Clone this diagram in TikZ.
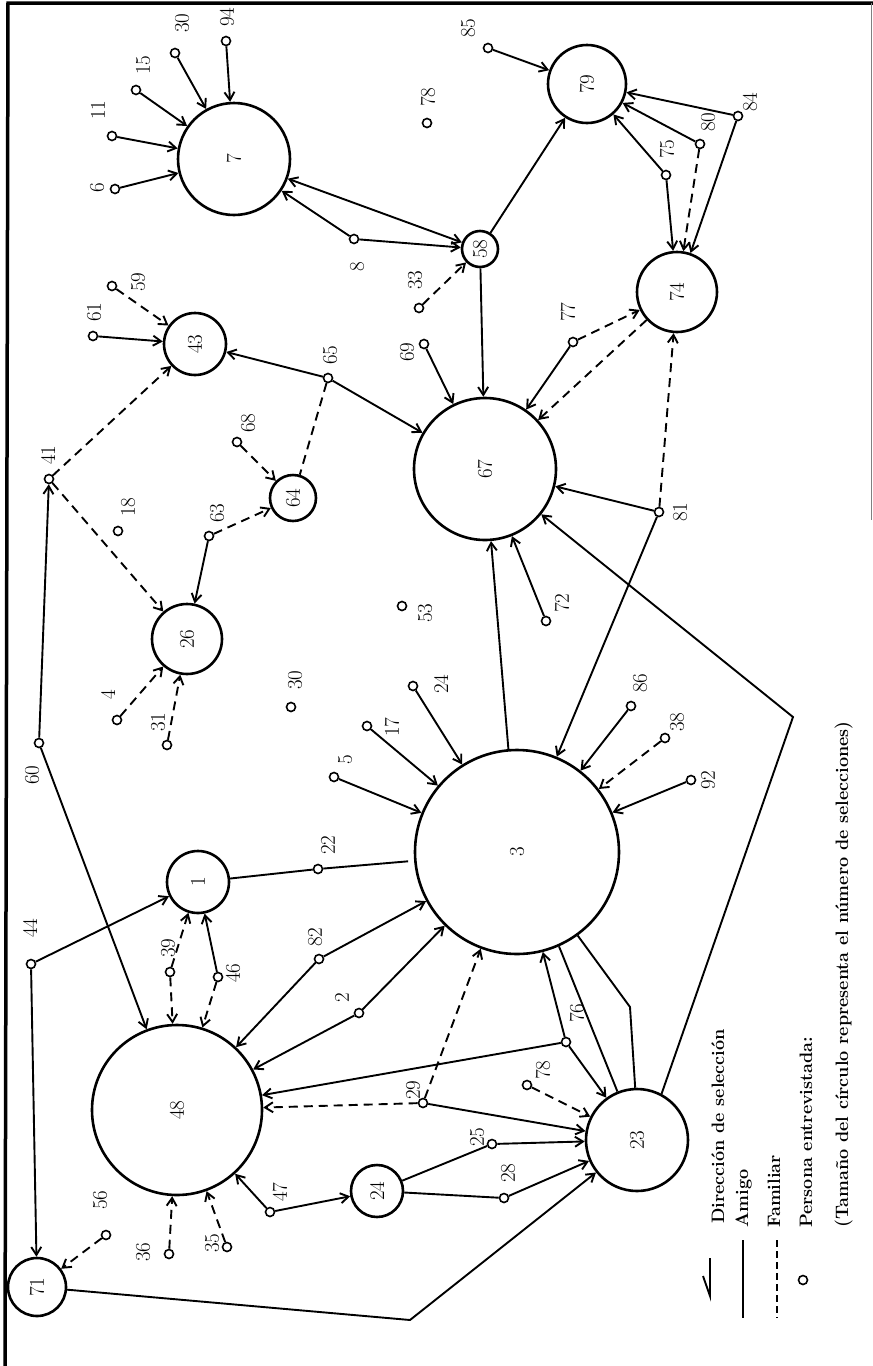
\documentclass[tikz,border=0pt]{standalone}
\usepackage{tikz}
\usetikzlibrary{arrows.meta}

\tikzset{
  grupo/.style={draw, circle, line width=2.6pt, inner sep=0pt, font=\fontsize{21}{22}\selectfont},
  pers/.style={draw, circle, line width=1.6pt, minimum size=9pt, inner sep=0pt},
  num/.style={rotate=90, inner sep=0pt, font=\fontsize{21}{22}\selectfont},
  amigo/.style={line width=1.9pt},
  familiar/.style={line width=1.9pt, dash pattern=on 9pt off 6pt},
  leg/.style={rotate=90, inner sep=0pt, anchor=base west, font=\fontsize{18}{20}\selectfont\bfseries},
}

\begin{document}
\begin{tikzpicture}[x=1pt, y=-1pt, >={Straight Barb[length=8pt,width=10pt]}]
    \useasboundingbox (0,0) rectangle (873,1366);
    % frame
    \draw[line width=3.5pt] (873,3) -- (8,3) -- (5,1366);
    \draw[line width=0.8pt, black!50] (871,3) -- (871,520);

    % groups (size = number of selections)
    \path
    (234,159) node[grupo, minimum size=112pt] (c7) {\rotatebox{90}{7}}
    (195,344) node[grupo, minimum size=62pt] (c43) {\rotatebox{90}{43}}
    (587,84) node[grupo, minimum size=78pt] (c79) {\rotatebox{90}{79}}
    (480,249) node[grupo, minimum size=36pt] (c58) {\rotatebox{90}{58}}
    (677,292) node[grupo, minimum size=80pt] (c74) {\rotatebox{90}{74}}
    (485,469) node[grupo, minimum size=142pt] (c67) {\rotatebox{90}{67}}
    (293,498) node[grupo, minimum size=46pt] (c64) {\rotatebox{90}{64}}
    (187,639) node[grupo, minimum size=70pt] (c26) {\rotatebox{90}{26}}
    (198,882) node[grupo, minimum size=62pt] (c1) {\rotatebox{90}{1}}
    (517,852) node[grupo, minimum size=204pt] (c3) {\rotatebox{90}{3}}
    (177,1110) node[grupo, minimum size=170pt] (c48) {\rotatebox{90}{48}}
    (377,1191) node[grupo, minimum size=52pt] (c24) {\rotatebox{90}{24}}
    (637,1140) node[grupo, minimum size=102pt] (c23) {\rotatebox{90}{23}}
    (37,1287) node[grupo, minimum size=58pt] (c71) {\rotatebox{90}{71}}
    ;

    % persons interviewed
    \path
    (115,189) node[pers] (p6) {}
    (112,136) node[pers] (p11) {}
    (136,90) node[pers] (p15) {}
    (175,53) node[pers] (p30a) {}
    (226,41) node[pers] (p94) {}
    (427,123) node[pers] (p78a) {}
    (354,239) node[pers] (p8) {}
    (93,336) node[pers] (p61) {}
    (112,286) node[pers] (p59) {}
    (419,308) node[pers] (p33) {}
    (424,344) node[pers] (p69) {}
    (328,378) node[pers] (p65) {}
    (237,442) node[pers] (p68) {}
    (488,48) node[pers] (p85) {}
    (700,144) node[pers] (p80) {}
    (738,116) node[pers] (p84) {}
    (666,175) node[pers] (p75) {}
    (573,342) node[pers] (p77) {}
    (49,479) node[pers] (p41) {}
    (118,531) node[pers] (p18) {}
    (209,536) node[pers] (p63) {}
    (117,720) node[pers] (p4) {}
    (167,745) node[pers] (p31) {}
    (291,707) node[pers] (p30b) {}
    (402,606) node[pers] (p53) {}
    (413,686) node[pers] (p24) {}
    (367,726) node[pers] (p17) {}
    (334,777) node[pers] (p5) {}
    (39,743) node[pers] (p60) {}
    (318,869) node[pers] (p22) {}
    (659,512) node[pers] (p81) {}
    (546,621) node[pers] (p72) {}
    (631,706) node[pers] (p86) {}
    (665,738) node[pers] (p38) {}
    (691,780) node[pers] (p92) {}
    (31,964) node[pers] (p44) {}
    (170,972) node[pers] (p39) {}
    (218,977) node[pers] (p46) {}
    (319,959) node[pers] (p82) {}
    (359,1013) node[pers] (p2) {}
    (423,1103) node[pers] (p29) {}
    (270,1212) node[pers] (p47) {}
    (106,1235) node[pers] (p56) {}
    (169,1254) node[pers] (p36) {}
    (227,1247) node[pers] (p35) {}
    (566,1042) node[pers] (p76) {}
    (527,1085) node[pers] (p78b) {}
    (492,1144) node[pers] (p25) {}
    (504,1198) node[pers] (p28) {}
    ;

    % their numbers
    \path
    (97,188) node[num] (l6) {6}
    (98,110) node[num] (l11) {11}
    (143,65) node[num] (l15) {15}
    (182,23) node[num] (l30a) {30}
    (227,17) node[num] (l94) {94}
    (428,97) node[num] (l78a) {78}
    (357,267) node[num] (l8) {8}
    (94,312) node[num] (l61) {61}
    (138,282) node[num] (l59) {59}
    (415,280) node[num] (l33) {33}
    (407,352) node[num] (l69) {69}
    (330,355) node[num] (l65) {65}
    (248,423) node[num] (l68) {68}
    (468,28) node[num] (l85) {85}
    (708,122) node[num] (l80) {80}
    (750,102) node[num] (l84) {84}
    (667,149) node[num] (l75) {75}
    (568,312) node[num] (l77) {77}
    (48,455) node[num] (l41) {41}
    (128,507) node[num] (l18) {18}
    (217,513) node[num] (l63) {63}
    (108,695) node[num] (l4) {4}
    (158,722) node[num] (l31) {31}
    (295,680) node[num] (l30b) {30}
    (425,613) node[num] (l53) {53}
    (441,684) node[num] (l24) {24}
    (392,727) node[num] (l17) {17}
    (345,760) node[num] (l5) {5}
    (32,775) node[num] (l60) {60}
    (328,845) node[num] (l22) {22}
    (680,512) node[num] (l81) {81}
    (562,603) node[num] (l72) {72}
    (640,683) node[num] (l86) {86}
    (677,722) node[num] (l38) {38}
    (708,780) node[num] (l92) {92}
    (30,928) node[num] (l44) {44}
    (168,948) node[num] (l39) {39}
    (233,973) node[num] (l46) {46}
    (315,937) node[num] (l82) {82}
    (342,998) node[num] (l2) {2}
    (413,1090) node[num] (l29) {29}
    (280,1192) node[num] (l47) {47}
    (100,1200) node[num] (l56) {56}
    (143,1252) node[num] (l36) {36}
    (212,1243) node[num] (l35) {35}
    (577,1013) node[num] (l76) {76}
    (543,1070) node[num] (l78b) {78}
    (477,1137) node[num] (l25) {25}
    (508,1173) node[num] (l28) {28}
    ;

    \coordinate (b23) at (793,717);
    \coordinate (b71) at (410,1320);
    \coordinate (b3) at (630,1007);

    % amigo
    \draw[amigo,->] (p6) -- (c7);
    \draw[amigo,->] (p11) -- (c7);
    \draw[amigo,->] (p15) -- (c7);
    \draw[amigo,->] (p30a) -- (c7);
    \draw[amigo,->] (p94) -- (c7);
    \draw[amigo,->] (p8) -- (c7);
    \draw[amigo,->] (p8) -- (c58);
    \draw[amigo,<->] (c58) -- (c7);
    \draw[amigo,->] (c58) -- (c79);
    \draw[amigo,->] (c58) -- (c67);
    \draw[amigo,->] (p85) -- (c79);
    \draw[amigo,->] (p84) -- (c79);
    \draw[amigo,->] (p80) -- (c79);
    \draw[amigo,->] (p75) -- (c79);
    \draw[amigo,->] (p75) -- (c74);
    \draw[amigo,->] (p84) -- (c74);
    \draw[amigo,->] (p77) -- (c67);
    \draw[amigo,->] (p81) -- (c67);
    \draw[amigo,->] (p81) -- (c3);
    \draw[amigo,->] (p72) -- (c67);
    \draw[amigo,->] (p69) -- (c67);
    \draw[amigo,->] (p65) -- (c67);
    \draw[amigo,->] (p65) -- (c43);
    \draw[amigo,->] (p61) -- (c43);
    \draw[amigo,->] (p63) -- (c26);
    \draw[amigo,->] (p60) -- (p41);
    \draw[amigo,->] (p60) -- (c48);
    \draw[amigo,->] (p5) -- (c3);
    \draw[amigo,->] (p17) -- (c3);
    \draw[amigo,->] (p24) -- (c3);
    \draw[amigo,->] (p86) -- (c3);
    \draw[amigo,->] (p92) -- (c3);
    \draw[amigo,->] (c3) -- (c67);
    \draw[amigo,->] (c23.62) -- (b23) -- (c67);
    \draw[amigo,shorten >=6pt] (c1) -- (p22) -- (c3);
    \draw[amigo,->] (p44) -- (c1);
    \draw[amigo,->] (p44) -- (c71);
    \draw[amigo,->] (p46) -- (c1);
    \draw[amigo,->] (p82) -- (c3);
    \draw[amigo,->] (p82) -- (c48);
    \draw[amigo,->] (p2) -- (c3);
    \draw[amigo,->] (p2) -- (c48);
    \draw[amigo,->] (p76) -- (c48);
    \draw[amigo,->] (p76) -- (c3);
    \draw[amigo,->] (p76) -- (c23);
    \draw[amigo] (c3.-66) -- (c23.112);
    \draw[amigo] (c3.-54) -- (b3) -- (c23.92);
    \draw[amigo,->] (p29) -- (c23);
    \draw[amigo,->] (p25) -- (c23);
    \draw[amigo,->] (p28) -- (c23);
    \draw[amigo] (c24) -- (p25);
    \draw[amigo] (c24) -- (p28);
    \draw[amigo,->] (p47) -- (c48);
    \draw[amigo,->] (p47) -- (c24);
    \draw[amigo,->] (c71) -- (b71) -- (c23);

    % familiar
    \draw[familiar,->] (p33) -- (c58);
    \draw[familiar,->] (p80) -- (c74);
    \draw[familiar,->] (p77) -- (c74);
    \draw[familiar,->] (c74) -- (c67);
    \draw[familiar,->] (p81) -- (c74);
    \draw[familiar] (p65) -- (c64);
    \draw[familiar,->] (p68) -- (c64);
    \draw[familiar,->] (p63) -- (c64);
    \draw[familiar,->] (p59) -- (c43);
    \draw[familiar,->] (p41) -- (c43);
    \draw[familiar,->] (p41) -- (c26);
    \draw[familiar,->] (p4) -- (c26);
    \draw[familiar,->] (p31) -- (c26);
    \draw[familiar,->] (p38) -- (c3);
    \draw[familiar,->] (p39) -- (c1);
    \draw[familiar,->] (p39) -- (c48);
    \draw[familiar,->] (p46) -- (c48);
    \draw[familiar,->] (p29) -- (c48);
    \draw[familiar,->] (p29) -- (c3);
    \draw[familiar,->] (p78b) -- (c23);
    \draw[familiar,->] (p36) -- (c48);
    \draw[familiar,->] (p35) -- (c48);
    \draw[familiar,->] (p56) -- (c71);

    % legend
    \coordinate (dirA) at (710,1258);
    \coordinate (dirB) at (710,1296);
    \coordinate (dirC) at (703,1276);
    \coordinate (amiA) at (743,1240);
    \coordinate (amiB) at (743,1318);
    \coordinate (famA) at (777,1240);
    \coordinate (famB) at (777,1318);
    \draw[amigo] (dirA) -- (dirB) -- (dirC);
    \draw[amigo] (amiA) -- (amiB);
    \draw[amigo, dash pattern=on 7pt off 4pt] (famA) -- (famB);
    \node[pers] (lpers) at (803,1280) {};
    \node[leg] (tdir) at (724,1224) {Dirección de selección};
    \node[leg] (tami) at (748,1228) {Amigo};
    \node[leg] (tfam) at (780,1228) {Familiar};
    \node[leg] (tper) at (812,1228) {Persona entrevistada:};
    \node[leg] (ttam) at (848,1228) {(Tamaño del círculo representa el número de selecciones)};
\end{tikzpicture}
\end{document}
